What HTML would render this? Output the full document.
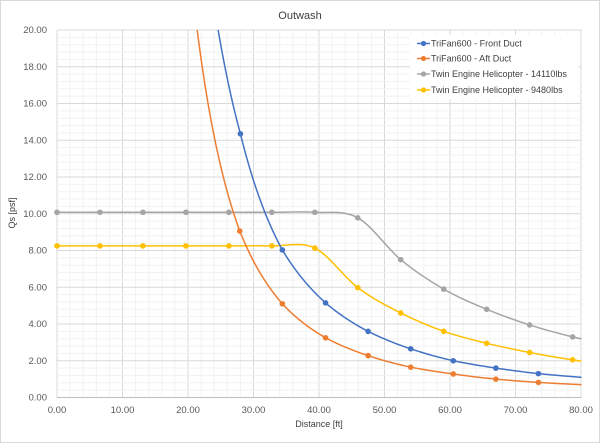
<!DOCTYPE html>
<html><head><meta charset="utf-8"><style>
html,body{margin:0;padding:0;background:#fff;}
svg{display:block;font-family:"Liberation Sans",sans-serif;}
</style></head><body>
<svg id="s" width="600" height="443" viewBox="0 0 600 443" xmlns="http://www.w3.org/2000/svg">
<rect x="0.5" y="0.5" width="599" height="442" fill="#fff" stroke="#d9d9d9"/>
<defs><clipPath id="c"><rect x="57" y="30" width="524.5" height="367.5"/></clipPath></defs>
<g id="grid"></g>
<g id="ser" clip-path="url(#c)"></g>
<g id="mk"></g>
<text x="300" y="19" text-anchor="middle" font-size="11" fill="#404040">Outwash</text>
<text x="319" y="427" text-anchor="middle" font-size="9" fill="#404040">Distance [ft]</text>
<text transform="translate(15,213) rotate(-90)" text-anchor="middle" font-size="9" fill="#404040">Qs [psf]</text>
<g id="lab" font-size="9.5" fill="#595959"></g>
<rect x="410" y="35" width="168" height="64" fill="#fff"/>
<g font-size="9" fill="#404040">
<line x1="417" y1="43.5" x2="430" y2="43.5" stroke="#4472c4" stroke-width="1.5"/><circle cx="423.5" cy="43.5" r="2.6" fill="#4472c4"/><text x="431" y="46.5">TriFan600 - Front Duct</text>
<line x1="417" y1="58.5" x2="430" y2="58.5" stroke="#ed7d31" stroke-width="1.5"/><circle cx="423.5" cy="58.5" r="2.6" fill="#ed7d31"/><text x="431" y="61.5">TriFan600 - Aft Duct</text>
<line x1="417" y1="74" x2="430" y2="74" stroke="#a5a5a5" stroke-width="1.5"/><circle cx="423.5" cy="74" r="2.6" fill="#a5a5a5"/><text x="431" y="77">Twin Engine Helicopter - 14110lbs</text>
<line x1="417" y1="90" x2="430" y2="90" stroke="#ffc000" stroke-width="1.5"/><circle cx="423.5" cy="90" r="2.6" fill="#ffc000"/><text x="431" y="93">Twin Engine Helicopter - 9480lbs</text>
</g>
</svg>
<script>
var NS="http://www.w3.org/2000/svg";
function X(v){return 57+v*6.55;}function Y(v){return 397.5-v*18.375;}
function el(p,t,a){var e=document.createElementNS(NS,t);for(var k in a)e.setAttribute(k,a[k]);document.getElementById(p).appendChild(e);return e;}
for(var i=0;i<=40;i++){var x=X(i*2);el("grid","line",{x1:x,y1:30,x2:x,y2:397.5,stroke:i%5==0?"#d9d9d9":"#f2f2f2","stroke-width":1});}
for(var j=0;j<=50;j++){var y=Y(j*0.4);el("grid","line",{x1:57,y1:y,x2:581.5,y2:y,stroke:j%5==0?"#d9d9d9":"#f2f2f2","stroke-width":1});}
el("grid","line",{x1:57,y1:397.5,x2:581.5,y2:397.5,stroke:"#bfbfbf"});
for(var j=0;j<=10;j++){var t=el("lab","text",{x:47,y:Y(j*2)+3,"text-anchor":"end"});t.textContent=(j*2).toFixed(2);}
for(var i=0;i<=8;i++){var t=el("lab","text",{x:X(i*10),y:413,"text-anchor":"middle"});t.textContent=(i*10).toFixed(2);}
function logPath(pts){var d="";for(var k=0;k<pts.length-1;k++){var a=pts[k],b=pts[k+1];for(var s=0;s<=20;s++){var f=s/20;var x=Math.exp(Math.log(a[0])+f*(Math.log(b[0])-Math.log(a[0])));var y=Math.exp(Math.log(a[1])+f*(Math.log(b[1])-Math.log(a[1])));d+=(d?"L":"M")+X(x).toFixed(2)+","+Y(y).toFixed(2);}}return d;}
function crPath(pts){var P=pts.map(function(p){return[X(p[0]),Y(p[1])];});var d="M"+P[0][0]+","+P[0][1];for(var k=0;k<P.length-1;k++){var p0=P[k>0?k-1:k],p1=P[k],p2=P[k+1],p3=P[k+2<P.length?k+2:k+1];d+="C"+(p1[0]+(p2[0]-p0[0])/6)+","+(p1[1]+(p2[1]-p0[1])/6)+" "+(p2[0]-(p3[0]-p1[0])/6)+","+(p2[1]-(p3[1]-p1[1])/6)+" "+p2[0]+","+p2[1];}return d;}
var blue=[[20,34],[24.6,20],[28,14.35],[34.4,8.03],[41,5.15],[47.5,3.6],[54,2.65],[60.5,2.0],[67,1.6],[73.5,1.3],[80,1.1],[84,1.0]];
var orange=[[18,30],[21.4,20],[27.9,9.06],[34.4,5.1],[41,3.25],[47.5,2.28],[54,1.65],[60.5,1.28],[67,1.0],[73.5,0.82],[80,0.7],[84,0.64]];
var st=6.56,g=[10.08,10.08,10.08,10.08,10.08,10.08,10.08,9.78,7.5,5.9,4.8,3.95,3.3],yl=[8.25,8.25,8.25,8.25,8.25,8.25,8.13,5.98,4.6,3.6,2.95,2.45,2.05];
var gray=g.map(function(v,i){return[i*st,v];});gray.push([85,2.85]);
var yel=yl.map(function(v,i){return[i*st,v];});yel.push([85,1.75]);
el("ser","path",{d:crPath(gray),fill:"none",stroke:"#a5a5a5","stroke-width":1.5});
el("ser","path",{d:crPath(yel),fill:"none",stroke:"#ffc000","stroke-width":1.5});
el("ser","path",{d:logPath(blue),fill:"none",stroke:"#4472c4","stroke-width":1.5});
el("ser","path",{d:logPath(orange),fill:"none",stroke:"#ed7d31","stroke-width":1.5});
function marks(pts,c){pts.forEach(function(p){if(p[0]<=80&&p[1]<=20)el("mk","circle",{cx:X(p[0]),cy:Y(p[1]),r:2.8,fill:c});});}
marks(gray.slice(0,13),"#a5a5a5");marks(yel.slice(0,13),"#ffc000");
marks(blue.slice(2,10),"#4472c4");marks(orange.slice(2,10),"#ed7d31");
</script>
</body></html>
